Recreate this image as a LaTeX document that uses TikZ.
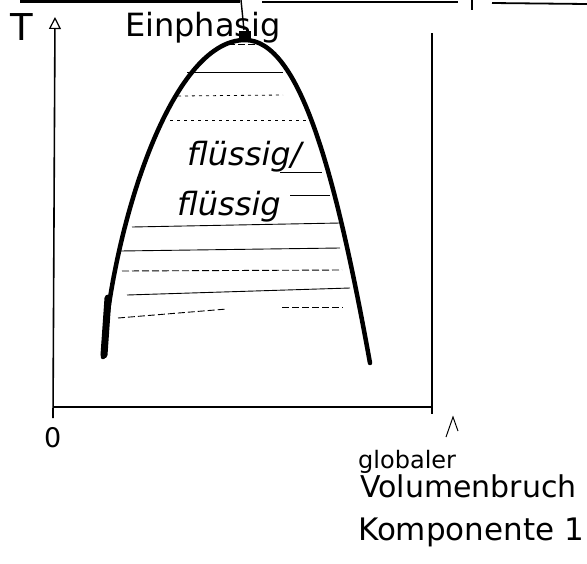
\documentclass[tikz,border=0pt]{standalone}
\usepackage{fontspec}
\setmainfont{DejaVu Sans}
\usepackage{xcolor}
\usepackage{tikz}
\usetikzlibrary{arrows.meta}
\tikzset{
  axis/.style={line width=1.6pt},
  tie/.style={line width=0.9pt},
  tiedash/.style={line width=0.9pt, dash pattern=on 7pt off 3pt},
  tiedot/.style={line width=0.8pt, dash pattern=on 3pt off 4pt},
  hand/.style={inner sep=0pt, anchor=base west},
}
\begin{document}
\begin{tikzpicture}[x=1pt,y=-1pt]
\useasboundingbox (0,0) rectangle (587,563);
\draw[line width=2.5pt] (20,1.5) -- (240,1.5);
\draw[line width=1.8pt] (262,2) -- (458,2);
\draw[line width=1.8pt] (472,0) -- (472,10);
\draw[line width=1.8pt] (492,3) -- (587,4);
\coordinate (O) at (53,407);
\coordinate (ytop) at (55,17);
\coordinate (ybot) at (53,418);
\coordinate (xend) at (432,407);
\coordinate (rtop) at (432,33);
\coordinate (rbot) at (432,414);
\coordinate (lfoot) at (103,357);
\coordinate (peak) at (245,40);
\coordinate (rfoot) at (370,363);
\draw[axis, -{Triangle[open, length=12pt, width=12pt, line width=1.2pt]}] (ybot) -- (ytop);
\draw[axis] (O) -- (xend);
\draw[line width=2pt] (rtop) -- (rbot);
\draw[line width=4.5pt, line cap=round] (lfoot) .. controls (112,230) and (170,40) .. (peak)
  .. controls (300,40) and (336,175) .. (rfoot);
\draw[line width=7pt, line cap=round] (104,355) -- (108,298);
\draw[line width=1.4pt] (241,0) -- (244,30);
\filldraw[line width=1pt] (239,31) rectangle (250,40);
\draw[tiedash] (228,44) -- (262,44);
\draw[tie] (187,72) -- (283,72);
\draw[tiedot] (178,96) -- (283,95);
\draw[tiedot] (170,120) -- (310,120);
\draw[tie] (280,172) -- (322,172);
\draw[tie] (290,195) -- (330,195);
\draw[tie] (132,227) -- (340,223);
\draw[tie] (120,251) -- (340,248);
\draw[tiedash] (122,271) -- (342,270);
\draw[tie] (127,295) -- (350,288);
\draw[tiedash] (118,318) -- (227,309);
\draw[tiedash] (282,307) -- (343,307);
\node[hand, font=\fontsize{37}{37}\selectfont] (tlab) at (10,40) {T};
\node[hand, font=\fontsize{32}{32}\selectfont] (einph) at (125,36) {Einphasig};
\node[hand, font=\itshape\fontsize{32}{32}\selectfont] (fl1) at (187,165) {flüssig/};
\node[hand, font=\itshape\fontsize{32}{32}\selectfont] (fl2) at (177,215) {flüssig};
\node[hand, font=\fontsize{27}{27}\selectfont] (null) at (44,447) {0};
\draw[line width=1pt] (446,437) -- (453,417) -- (458,431);
\node[hand, font=\fontsize{24}{24}\selectfont] (glob1) at (358,468) {globaler};
\node[hand, font=\fontsize{30}{30}\selectfont] (glob2) at (360,497) {Volumenbruch};
\node[hand, font=\fontsize{31}{31}\selectfont] (glob3) at (358,540) {Komponente 1};
\end{tikzpicture}
\end{document}
